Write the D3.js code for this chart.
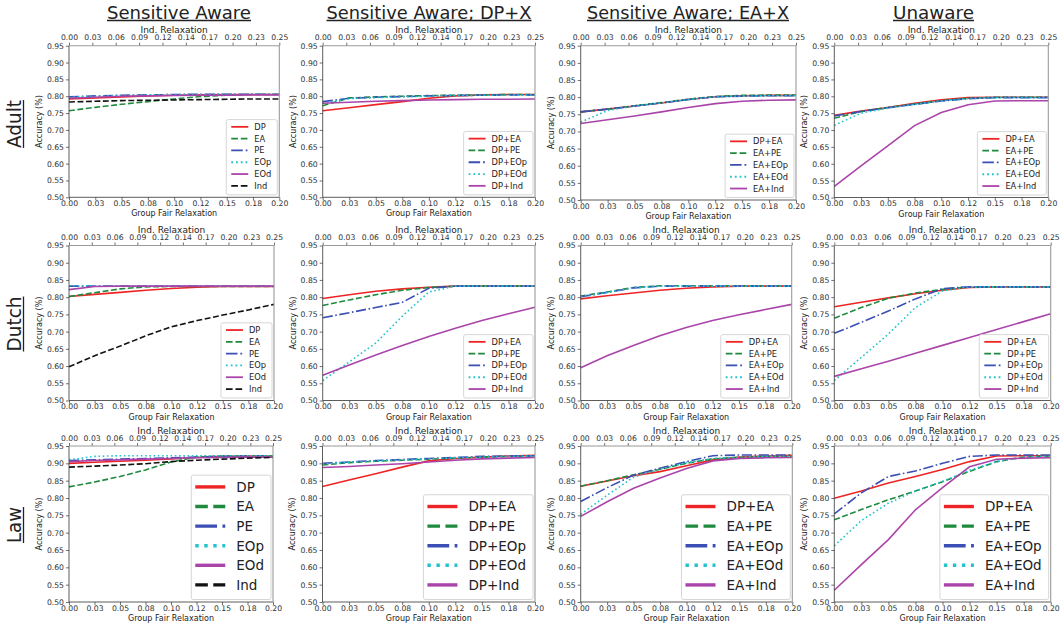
<!DOCTYPE html>
<html>
<head>
<meta charset="utf-8">
<script src="https://cdn.jsdelivr.net/npm/d3@7"></script>
<style>
body{margin:0;background:#fff;}
text{font-family:"DejaVu Sans",sans-serif;}
</style>
</head>
<body>
<svg width="1060" height="628"></svg>
<script>
// group fair relaxation values (x of every point)
var relax = [0, 0.025, 0.05, 0.075, 0.1, 0.125, 0.15, 0.175, 0.2];
var groupTicks = ["0.00","0.03","0.05","0.08","0.10","0.12","0.15","0.18","0.20"];
var indTicks = ["0.00","0.03","0.06","0.09","0.12","0.14","0.17","0.20","0.23","0.25"];
var accTicks = [0.50,0.55,0.60,0.65,0.70,0.75,0.80,0.85,0.90,0.95];

var colTitles = ["Sensitive Aware","Sensitive Aware; DP+X","Sensitive Aware; EA+X","Unaware"];
var rowTitles = ["Adult","Dutch","Law"];

var awareNames = ["DP","EA","PE","EOp","EOd","Ind"];
var dpNames = ["DP+EA","DP+PE","DP+EOp","DP+EOd","DP+Ind"];
var eaNames = ["DP+EA","EA+PE","EA+EOp","EA+EOd","EA+Ind"];

var adultAware = [
  [0.792,0.795,0.798,0.801,0.803,0.804,0.805,0.805,0.805],
  [0.757,0.767,0.776,0.784,0.792,0.799,0.803,0.805,0.805],
  [0.798,0.801,0.803,0.804,0.805,0.806,0.806,0.806,0.806],
  [0.797,0.800,0.802,0.804,0.805,0.805,0.806,0.806,0.806],
  [0.794,0.797,0.800,0.801,0.802,0.803,0.803,0.804,0.804],
  [0.783,0.785,0.787,0.788,0.789,0.790,0.791,0.792,0.792]
];
var adultDP = [
  [0.757,0.766,0.775,0.784,0.794,0.801,0.804,0.805,0.805],
  [0.772,0.795,0.798,0.800,0.802,0.803,0.804,0.805,0.805],
  [0.784,0.794,0.797,0.799,0.801,0.802,0.803,0.804,0.804],
  [0.779,0.793,0.796,0.798,0.800,0.802,0.803,0.803,0.804],
  [0.779,0.782,0.785,0.787,0.789,0.790,0.791,0.791,0.792]
];
var adultEA = [
  [0.757,0.765,0.774,0.783,0.793,0.801,0.804,0.805,0.805],
  [0.757,0.765,0.775,0.784,0.794,0.802,0.805,0.806,0.806],
  [0.757,0.765,0.774,0.783,0.793,0.801,0.803,0.804,0.804],
  [0.727,0.761,0.774,0.783,0.793,0.801,0.803,0.804,0.804],
  [0.723,0.734,0.745,0.757,0.770,0.781,0.788,0.791,0.792]
];
var adultUn = [
  [0.744,0.756,0.767,0.779,0.790,0.796,0.797,0.797,0.797],
  [0.735,0.755,0.767,0.777,0.787,0.794,0.797,0.797,0.797],
  [0.742,0.755,0.766,0.776,0.786,0.793,0.796,0.796,0.796],
  [0.714,0.750,0.765,0.776,0.786,0.793,0.796,0.796,0.796],
  [0.533,0.594,0.653,0.713,0.752,0.775,0.786,0.787,0.787]
];
var dutchAware = [
  [0.802,0.808,0.814,0.820,0.825,0.829,0.831,0.831,0.831],
  [0.802,0.813,0.824,0.830,0.831,0.831,0.831,0.831,0.831],
  [0.832,0.832,0.832,0.832,0.832,0.832,0.832,0.832,0.832],
  [0.833,0.833,0.833,0.833,0.833,0.833,0.833,0.833,0.833],
  [0.822,0.831,0.832,0.832,0.832,0.832,0.832,0.832,0.832],
  [0.598,0.630,0.658,0.688,0.714,0.732,0.748,0.763,0.779]
];
var dutchDP = [
  [0.796,0.807,0.817,0.824,0.829,0.832,0.832,0.832,0.832],
  [0.776,0.792,0.807,0.820,0.828,0.832,0.832,0.832,0.832],
  [0.740,0.755,0.770,0.785,0.826,0.832,0.832,0.832,0.832],
  [0.558,0.612,0.667,0.745,0.815,0.832,0.832,0.832,0.832],
  [0.573,0.603,0.632,0.660,0.686,0.710,0.732,0.752,0.771]
];
var dutchEA = [
  [0.795,0.804,0.812,0.820,0.826,0.830,0.832,0.832,0.832],
  [0.803,0.815,0.828,0.833,0.833,0.833,0.833,0.833,0.833],
  [0.801,0.814,0.827,0.832,0.832,0.832,0.832,0.832,0.832],
  [0.801,0.814,0.827,0.832,0.832,0.832,0.832,0.832,0.832],
  [0.595,0.630,0.660,0.688,0.712,0.732,0.749,0.764,0.779]
];
var dutchUn = [
  [0.772,0.785,0.798,0.810,0.820,0.828,0.830,0.830,0.830],
  [0.739,0.770,0.797,0.812,0.823,0.830,0.830,0.830,0.830],
  [0.695,0.727,0.760,0.795,0.825,0.830,0.830,0.830,0.830],
  [0.558,0.625,0.693,0.770,0.818,0.830,0.830,0.830,0.830],
  [0.570,0.592,0.614,0.637,0.660,0.683,0.706,0.729,0.752]
];
var lawAware = [
  [0.900,0.903,0.906,0.909,0.913,0.917,0.920,0.921,0.921],
  [0.832,0.846,0.862,0.881,0.904,0.918,0.921,0.921,0.921],
  [0.908,0.910,0.912,0.914,0.916,0.918,0.920,0.921,0.922],
  [0.910,0.920,0.922,0.922,0.922,0.922,0.922,0.922,0.922],
  [0.905,0.908,0.910,0.912,0.914,0.916,0.917,0.918,0.918],
  [0.889,0.892,0.895,0.899,0.905,0.909,0.912,0.915,0.917]
];
var lawDP = [
  [0.833,0.852,0.870,0.889,0.907,0.914,0.918,0.921,0.923],
  [0.895,0.902,0.906,0.909,0.912,0.915,0.918,0.920,0.921],
  [0.900,0.904,0.908,0.911,0.914,0.917,0.920,0.921,0.922],
  [0.898,0.903,0.907,0.910,0.913,0.916,0.918,0.920,0.921],
  [0.888,0.891,0.895,0.899,0.904,0.909,0.913,0.915,0.917]
];
var lawEA = [
  [0.834,0.849,0.864,0.876,0.893,0.910,0.918,0.921,0.923],
  [0.834,0.850,0.867,0.883,0.900,0.913,0.917,0.919,0.920],
  [0.790,0.830,0.866,0.886,0.905,0.922,0.924,0.924,0.924],
  [0.753,0.808,0.860,0.883,0.902,0.914,0.918,0.920,0.920],
  [0.747,0.789,0.828,0.858,0.885,0.907,0.914,0.916,0.917]
];
var lawUn = [
  [0.799,0.820,0.843,0.862,0.882,0.905,0.921,0.922,0.922],
  [0.737,0.767,0.795,0.820,0.847,0.877,0.905,0.918,0.921],
  [0.754,0.815,0.862,0.878,0.900,0.920,0.924,0.924,0.924],
  [0.662,0.735,0.785,0.820,0.848,0.880,0.905,0.918,0.920],
  [0.534,0.608,0.680,0.766,0.830,0.890,0.912,0.915,0.916]
];

var awareStyles = ["r-","g--","b-.","c:","m-","k--"];
var pairStyles = ["r-","g--","b-.","c:","m-"];
var colors = {r:"#ee2424", g:"#1f8a3d", b:"#3c4fb4", c:"#22c3cc", m:"#aa44aa", k:"#111111"};

var getDash = function(s, w)
{
    var k = s.slice(1);
    if (k == "--") return [3.7*w, 1.6*w].join(",");
    if (k == "-.") return [6.4*w, 1.6*w, 1*w, 1.6*w].join(",");
    if (k == ":") return [1*w, 1.65*w].join(",");
    return null;
}

// plot boxes [left, top, right, bottom] per row / column
var boxes = [
  [[69,45.7,279.3,197.3],[322.7,45.7,535,197.3],[580.7,45.7,796,200],[834.3,45.7,1048.3,197.5]],
  [[69,245.5,274,400.5],[322.7,245.5,535,400.5],[580.7,245.5,791.7,400.5],[834.3,245.5,1050.7,400.5]],
  [[69,446,273,602],[322.5,446,535,602],[580.7,446,792.3,602],[834.3,446,1050.7,602]]
];
var titleCenters = [179, 429, 688, 933.5];
var titleWidths = [144, 205, 202, 81];
var rowCenters = [124, 324, 525];
var rowWidths = [48, 55, 36];

var panels = [
  {row:0,col:0,names:awareNames,values:adultAware,styles:awareStyles},
  {row:0,col:1,names:dpNames,values:adultDP,styles:pairStyles},
  {row:0,col:2,names:eaNames,values:adultEA,styles:pairStyles},
  {row:0,col:3,names:eaNames,values:adultUn,styles:pairStyles},
  {row:1,col:0,names:awareNames,values:dutchAware,styles:awareStyles},
  {row:1,col:1,names:dpNames,values:dutchDP,styles:pairStyles},
  {row:1,col:2,names:eaNames,values:dutchEA,styles:pairStyles},
  {row:1,col:3,names:dpNames,values:dutchUn,styles:pairStyles},
  {row:2,col:0,names:awareNames,values:lawAware,styles:awareStyles},
  {row:2,col:1,names:dpNames,values:lawDP,styles:pairStyles},
  {row:2,col:2,names:eaNames,values:lawEA,styles:pairStyles},
  {row:2,col:3,names:eaNames,values:lawUn,styles:pairStyles}
];

var svg = d3.select("svg");

var styleAxis = function(g, fs)
{
    g.select(".domain").remove();
    g.selectAll("line").attr("stroke","#333").attr("stroke-width",0.7);
    g.selectAll("text").attr("font-size",fs).attr("fill","#333")
        .attr("font-family","DejaVu Sans, sans-serif");
}

var drawLegend = function(g, p, box)
{
    var big = p.row == 2;
    var fs = big ? 13.5 : 8.3;
    var step = big ? 19.6 : 11.8;
    var lineLen = big ? 30 : 17;
    var lw = big ? 3.4 : 1.8;
    var padL = big ? 4 : 5, gap = big ? 11 : 6, padR = big ? 7 : 6;
    var leg = g.append("g");
    var bg = leg.append("rect");
    var items = leg.selectAll("g.item")
        .data(p.names)
        .enter()
        .append("g")
        .attr("class","item");
    items.append("line")
        .attr("x1",padL).attr("x2",padL+lineLen)
        .attr("y1",function(d,i){return i*step;})
        .attr("y2",function(d,i){return i*step;})
        .attr("stroke",function(d,i){return colors[p.styles[i][0]];})
        .attr("stroke-width",lw)
        .attr("stroke-dasharray",function(d,i){return getDash(p.styles[i],lw);});
    var texts = items.append("text")
        .attr("x",padL+lineLen+gap)
        .attr("y",function(d,i){return i*step;})
        .attr("dy","0.36em")
        .attr("font-size",fs)
        .attr("fill","#222")
        .text(function(d){return d;});
    var tw = 0;
    texts.each(function(){ tw = Math.max(tw, this.getComputedTextLength()); });
    var w = padL + lineLen + gap + tw + padR;
    var padT = 0.87*fs, padB = 1.08*fs;
    var h = (p.names.length-1)*step + padT + padB;
    bg.attr("x",0).attr("y",-padT).attr("width",w).attr("height",h)
        .attr("rx",2).attr("fill","white").attr("fill-opacity",0.85)
        .attr("stroke","#cccccc").attr("stroke-width",0.8);
    leg.attr("transform","translate("+(box[2]-2-w)+","+(box[3]-2.5-h+padT)+")");
}

var drawPanel = function(p)
{
    var box = boxes[p.row][p.col];
    var x = d3.scaleLinear().domain([0,0.2]).range([box[0],box[2]]);
    var xTop = d3.scaleLinear().domain([0,0.25]).range([box[0],box[2]]);
    var y = d3.scaleLinear().domain([0.5,0.95]).range([box[3],box[1]]);
    var g = svg.append("g");
    var cx = (box[0]+box[2])/2, cy = (box[1]+box[3])/2;

    g.append("g")
        .attr("transform","translate("+box[0]+",0)")
        .call(d3.axisLeft(y).tickValues(accTicks).tickFormat(d3.format(".2f")).tickSize(3).tickPadding(2))
        .call(styleAxis, 7.7);
    g.append("g")
        .attr("transform","translate(0,"+box[3]+")")
        .call(d3.axisBottom(x).tickValues(relax).tickFormat(function(d,i){return groupTicks[i];}).tickSize(3).tickPadding(0.5))
        .call(styleAxis, 7.7);
    var topVals = indTicks.map(function(d,i){return i*0.25/(indTicks.length-1);});
    g.append("g")
        .attr("transform","translate(0,"+box[1]+")")
        .call(d3.axisTop(xTop).tickValues(topVals).tickFormat(function(d,i){return indTicks[i];}).tickSize(3).tickPadding(2.5))
        .call(styleAxis, 7.7);

    g.append("text").attr("x",cx).attr("y",box[1]-12.5)
        .attr("text-anchor","middle").attr("font-size",9).attr("fill","#222")
        .text("Ind. Relaxation");
    g.append("text").attr("x",cx).attr("y",box[3]+19)
        .attr("text-anchor","middle").attr("font-size",8).attr("fill","#222")
        .text("Group Fair Relaxation");
    g.append("text")
        .attr("transform","translate("+(box[0]-30)+","+cy+") rotate(-90)")
        .attr("text-anchor","middle").attr("dy","0.35em")
        .attr("font-size",8).attr("fill","#222")
        .text("Accuracy (%)");

    var line = d3.line()
        .x(function(d,i){return x(relax[i]);})
        .y(function(d){return y(d);});
    g.selectAll("path.series")
        .data(p.values)
        .enter()
        .append("path")
        .attr("class","series")
        .attr("d",line)
        .attr("fill","none")
        .attr("stroke",function(d,i){return colors[p.styles[i][0]];})
        .attr("stroke-width",1.6)
        .attr("stroke-dasharray",function(d,i){return getDash(p.styles[i],1.6);});

    // frame: left/bottom dark, top/right lighter
    g.append("line").attr("x1",box[0]).attr("x2",box[0]).attr("y1",box[1]).attr("y2",box[3])
        .attr("stroke","#333").attr("stroke-width",0.8);
    g.append("line").attr("x1",box[0]).attr("x2",box[2]).attr("y1",box[3]).attr("y2",box[3])
        .attr("stroke","#333").attr("stroke-width",0.8);
    g.append("line").attr("x1",box[0]).attr("x2",box[2]).attr("y1",box[1]).attr("y2",box[1])
        .attr("stroke","#9a9a9a").attr("stroke-width",1.1);
    g.append("line").attr("x1",box[2]).attr("x2",box[2]).attr("y1",box[1]).attr("y2",box[3])
        .attr("stroke","#9a9a9a").attr("stroke-width",1.1);

    drawLegend(g, p, box);
}

panels.forEach(drawPanel);

// column titles, underlined
colTitles.forEach(function(t,i)
{
    svg.append("text")
        .attr("x",titleCenters[i]).attr("y",18.5)
        .attr("text-anchor","middle")
        .attr("font-family","Lato, sans-serif")
        .attr("font-size",18)
        .attr("textLength",titleWidths[i])
        .attr("lengthAdjust","spacingAndGlyphs")
        .attr("fill","#222")
        .text(t);
    svg.append("line")
        .attr("x1",titleCenters[i]-titleWidths[i]/2).attr("x2",titleCenters[i]+titleWidths[i]/2)
        .attr("y1",20.5).attr("y2",20.5)
        .attr("stroke","#222").attr("stroke-width",1.3);
});

// row titles, rotated and underlined
rowTitles.forEach(function(t,i)
{
    svg.append("text")
        .attr("transform","translate(21,"+rowCenters[i]+") rotate(-90)")
        .attr("text-anchor","middle")
        .attr("font-family","Lato, sans-serif")
        .attr("font-size",20)
        .attr("textLength",rowWidths[i])
        .attr("lengthAdjust","spacingAndGlyphs")
        .attr("fill","#222")
        .text(t);
    svg.append("line")
        .attr("x1",23.5).attr("x2",23.5)
        .attr("y1",rowCenters[i]-rowWidths[i]/2).attr("y2",rowCenters[i]+rowWidths[i]/2)
        .attr("stroke","#222").attr("stroke-width",1.3);
});
</script>
</body>
</html>
